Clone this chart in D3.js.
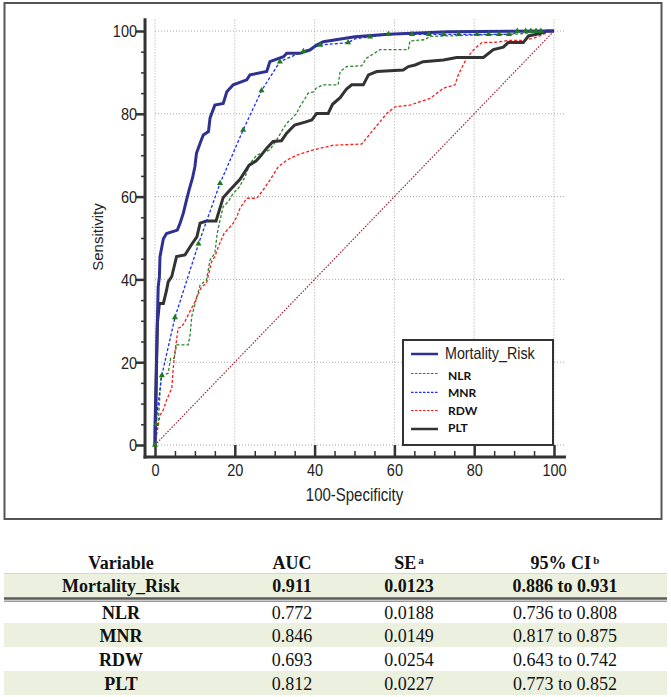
<!DOCTYPE html>
<html>
<head>
<meta charset="utf-8">
<script src="https://cdn.jsdelivr.net/npm/d3@7/dist/d3.min.js"></script>
<style>
html,body{margin:0;padding:0;background:#fff;}
svg{display:block;}
</style>
</head>
<body>
<svg id="chart" width="671" height="697"></svg>
<script>
// ---------------- DATA ----------------
const seriesNames = ["Mortality_Risk", "NLR", "MNR", "RDW", "PLT"];

const mortalityX = [0,0.25,0.4,0.6,0.8,1.1,1.25,2.1,2.9,5.6,6.3,7.1,7.8,8.6,9.4,10,10.4,11.3,12.1,13.4,13.8,15,17.1,18,19.6,23,23.8,28,28.8,32.2,33,36.3,38.8,40.5,42.2,50.1,58.5,73.5,100];
const mortalityY = [0,10,20.5,30,38.2,40.6,45.5,49.8,51.1,51.9,53.6,56,58.8,61.8,64.5,67.2,70.5,72.9,74.9,75.7,79,82.1,82.5,85.3,87,88.2,89.4,90.2,92.6,93.8,94.6,94.6,95.4,96.6,97.4,98.6,99.2,99.8,100];

const nlrX = [0,0.25,0.8,1.5,3.3,3.9,4.8,5.4,8.3,8.8,9.2,10.5,11.3,12.9,13.8,15,15.6,16.3,17.1,18.4,19.6,20.9,22.6,23.8,25.5,28.8,30.5,31.7,33,34.3,35.5,36.3,37.6,38.4,39.7,40.5,42.2,45.9,46.4,48,51.8,53,56.4,63.5,63.9,67.7,68.9,91.5,96.5,100];
const nlrY = [0,4.4,5.2,16.7,17.3,20.9,20.9,24.2,24.2,26.6,31,35.8,38.6,39.9,44.7,46.3,51.2,54.3,57.6,58.8,60.8,62,64.8,68,70,71.3,73.7,75.7,77.7,78.9,80.1,81.7,83.7,85,85.3,86.3,87,87,90.2,91.4,91.6,93.4,95.5,95.5,97.6,97.9,98.7,99.3,99.9,100];

const mnrX = [0,0.4,1.7,5,10.9,16.3,22.1,26.7,31.3,37.2,41.4,48.4,50.1,53.9,58.5,89.7,90.8,100];
const mnrY = [0,6.8,16.8,30.8,48.6,63.2,76.1,85.6,92.6,95.1,96.6,97.2,98.1,98.6,99.2,99.2,99.9,100];

const rdwX = [0,0.6,1.25,2.1,2.9,4.2,4.6,5,5.8,6.7,7.5,8.3,10,10.5,11.7,12.9,14.2,15,15.9,17.3,18.8,19.6,20.5,21.3,23,25.5,27.1,28.8,30.9,33,35.5,39.7,44.7,51.8,54.7,58.1,60.2,63.9,68.9,72.3,75.2,76,78.1,79.8,81.9,85.6,88.5,91.9,94.8,96.9,98.6,100];
const rdwY = [0,3.6,7.2,8.5,10.9,13.7,18.9,22.5,28.2,28.6,29.8,31.4,34.6,35.8,38.2,39.1,44.3,45.5,47.9,51.1,52.7,53.6,55.1,57.2,59.6,59.6,61.6,64,67.2,68.8,70,71.3,72.4,72.7,76.1,80.1,81.7,82.1,83.7,86.2,87,89.4,93.4,95.4,97.2,97.3,97.7,97.7,98.2,99,99.8,100];

const pltX = [0,0,0.4,0.6,1.1,2.1,2.9,3.3,4.2,5,5.4,7.5,9.2,10.5,11.3,12.9,15.3,17.1,18.8,21.3,23.6,25.3,26.3,28,29.6,31.7,33,35,37.6,39.3,40.5,43.4,44.5,46.4,48,49.3,52.2,53.5,55.6,62.2,63.5,65.2,67.2,72.3,75.6,82.3,84.8,87.3,88.5,92.3,93.6,96.5,98.1,100];
const pltY = [0,4.4,21.3,29.4,34.2,34.2,37.4,39.4,40.7,43.9,45.5,45.9,48.5,50.3,53.6,54.1,54.1,59.8,61.6,64.2,67.6,68.6,69.6,71.7,73.3,73.5,75.3,77.3,78,78.5,80.1,80.1,82.3,83.9,86,87,87,89.4,90.2,90.6,91.4,91.8,92.6,93,93.6,93.6,95.5,96.1,97.2,97.2,98.8,99.4,100,100];

// markers drawn on the MNR curve
const markerX = [0,0.3,1.7,5,10.9,16.3,22.1,26.7,31.3,37.2,41.4,48.4,53.9,58.5,64.4,68.6,72.3,76.1,80.7,83.6,86.2,88.7,90.8,92.9,94.2,95.5,96.7];
const markerY = [0,5,16.8,30.8,48.6,63.2,76.1,85.6,92.6,95.1,96.6,97.2,98.6,99.2,99.2,99.2,99.2,99.2,99.2,99.2,99.2,99.2,100,100,100,100,100];

const majorTicks = [0,20,40,60,80,100];
const minorTicks = [5,10,15,25,30,35,45,50,55,65,70,75,85,90,95];

const xTitle = "100-Specificity";
const yTitle = "Sensitivity";

// table
const tableHeaders = ["Variable", "AUC", "SE", "95% CI"];
const tableHeaderSup = ["", "", "a", "b"];
const tableVariables = ["Mortality_Risk", "NLR", "MNR", "RDW", "PLT"];
const tableAUC = ["0.911", "0.772", "0.846", "0.693", "0.812"];
const tableSE = ["0.0123", "0.0188", "0.0149", "0.0254", "0.0227"];
const tableCI = ["0.886 to 0.931", "0.736 to 0.808", "0.817 to 0.875", "0.643 to 0.742", "0.773 to 0.852"];

// ---------------- DRAW ----------------
const svg = d3.select("#chart");
const SY = 1.2; // vertical stretch of chart text

const x = d3.scaleLinear().domain([0, 100]).range([155, 554]);
const y = d3.scaleLinear().domain([0, 100]).range([445, 31]);

// outer frame
svg.append("rect").attr("x", 4.5).attr("y", 3).attr("width", 657).attr("height", 516)
  .attr("fill", "none").attr("stroke", "#555").attr("stroke-width", 2);

// grid
const grid = svg.append("g");
grid.selectAll("line.v").data(majorTicks).join("line")
  .attr("x1", d => x(d)).attr("x2", d => x(d))
  .attr("y1", y(102.8)).attr("y2", y(-2.9))
  .attr("stroke", "#a8a8a8").attr("stroke-width", 1).attr("stroke-dasharray", "1,2");
grid.selectAll("line.h").data(majorTicks).join("line")
  .attr("y1", d => y(d)).attr("y2", d => y(d))
  .attr("x1", x(0)).attr("x2", x(102.5))
  .attr("stroke", "#a8a8a8").attr("stroke-width", 1).attr("stroke-dasharray", "1,2");

// diagonal reference
svg.append("line")
  .attr("x1", x(0)).attr("y1", y(0)).attr("x2", x(100)).attr("y2", y(100))
  .attr("stroke", "#9b2335").attr("stroke-width", 1.2).attr("stroke-dasharray", "1.5,1.5");

// axes
const axisColor = "#333";
const yAxisX = x(-2.5), xAxisY = y(-2.9);
const yMajor = d3.axisLeft(y).tickValues(majorTicks).tickSize(9).tickFormat(d3.format("d"));
const yMinor = d3.axisLeft(y).tickValues(minorTicks).tickSize(4).tickFormat("");
const xMajor = d3.axisBottom(x).tickValues(majorTicks).tickSize(-12).tickFormat(d3.format("d"));
const xMinor = d3.axisBottom(x).tickValues(minorTicks).tickSize(-6).tickFormat("");

function styleAxis(g, w) {
  g.select(".domain").remove();
  g.selectAll(".tick line").attr("stroke", axisColor).attr("stroke-width", w);
}
const gyMin = svg.append("g").attr("transform", `translate(${yAxisX},0)`).call(yMinor);
styleAxis(gyMin, 1.5);
const gyMaj = svg.append("g").attr("transform", `translate(${yAxisX},0)`).call(yMajor);
styleAxis(gyMaj, 2.5);
gyMaj.selectAll(".tick text")
  .attr("x", -8).attr("dy", null).attr("y", 0)
  .attr("dominant-baseline", "central")
  .attr("transform", `scale(1,${SY})`)
  .attr("font-family", "'Liberation Sans', Arial, sans-serif").attr("font-size", 14.5)
  .attr("fill", "#222").attr("text-anchor", "end");

const gxMin = svg.append("g").attr("transform", `translate(0,${xAxisY})`).call(xMinor);
styleAxis(gxMin, 1.5);
const gxMaj = svg.append("g").attr("transform", `translate(0,${xAxisY})`).call(xMajor);
styleAxis(gxMaj, 2.5);
gxMaj.selectAll(".tick text")
  .attr("y", 0).attr("dy", null)
  .attr("dominant-baseline", "central")
  .attr("transform", `translate(0,13) scale(1,${SY})`)
  .attr("font-family", "'Liberation Sans', Arial, sans-serif").attr("font-size", 14.5)
  .attr("fill", "#222").attr("text-anchor", "middle");

svg.append("line").attr("x1", yAxisX).attr("x2", yAxisX).attr("y1", y(103.1)).attr("y2", xAxisY + 1.5)
  .attr("stroke", axisColor).attr("stroke-width", 3);
svg.append("line").attr("x1", yAxisX - 1.5).attr("x2", x(103)).attr("y1", xAxisY).attr("y2", xAxisY)
  .attr("stroke", axisColor).attr("stroke-width", 3);

// axis titles
svg.append("g").attr("transform", `translate(${(x(0)+x(100))/2},495) scale(1,${SY})`)
  .append("text").text(xTitle)
  .attr("text-anchor", "middle").attr("dominant-baseline", "central")
  .attr("font-family", "'Liberation Sans', Arial, sans-serif").attr("font-size", 15).attr("fill", "#222");
svg.append("g").attr("transform", `translate(97,237) rotate(-90)`)
  .append("text").text(yTitle)
  .attr("text-anchor", "middle").attr("dominant-baseline", "central")
  .attr("font-family", "'Liberation Sans', Arial, sans-serif").attr("font-size", 15).attr("fill", "#222");

// curves
const line = d3.line().x(d => x(d[0])).y(d => y(d[1])).curve(d3.curveLinear);
const zip = (a, b) => a.map((v, i) => [v, b[i]]);

const styles = {
  "Mortality_Risk": {color: "#2e3192", width: 3, dash: null},
  "NLR": {color: "#2a862a", width: 1.3, dash: "3,2"},
  "MNR": {color: "#1a2cff", width: 1.3, dash: "3,2"},
  "RDW": {color: "#ff1a1a", width: 1.3, dash: "3,2"},
  "PLT": {color: "#333333", width: 3, dash: null}
};
const seriesData = {
  "Mortality_Risk": zip(mortalityX, mortalityY),
  "NLR": zip(nlrX, nlrY),
  "MNR": zip(mnrX, mnrY),
  "RDW": zip(rdwX, rdwY),
  "PLT": zip(pltX, pltY)
};
const drawOrder = ["RDW", "NLR", "PLT", "MNR", "Mortality_Risk"];
svg.append("g").selectAll("path").data(drawOrder).join("path")
  .attr("d", k => line(seriesData[k]))
  .attr("fill", "none")
  .attr("stroke", k => styles[k].color)
  .attr("stroke-width", k => styles[k].width)
  .attr("stroke-dasharray", k => styles[k].dash)
  .attr("stroke-linejoin", "miter");

// markers
const tri = d3.symbol().type(d3.symbolTriangle).size(16);
svg.append("g").selectAll("path").data(zip(markerX, markerY)).join("path")
  .attr("d", tri)
  .attr("transform", d => `translate(${x(d[0])},${y(d[1])})`)
  .attr("fill", "#1f7a1f");

// legend
const lg = svg.append("g");
lg.append("rect").attr("x", 403).attr("y", 340).attr("width", 150).attr("height", 105)
  .attr("fill", "#fff").attr("stroke", "#333").attr("stroke-width", 2);
const legendY = [354, 373.5, 392.3, 410.5, 429];
const legendTextY = [353.5, 375.5, 392.5, 410, 427.5];
seriesNames.forEach((k, i) => {
  lg.append("line").attr("x1", 411).attr("x2", 438).attr("y1", legendY[i]).attr("y2", legendY[i])
    .attr("stroke", styles[k].color).attr("stroke-width", styles[k].width === 3 ? 2.5 : 1.2)
    .attr("stroke-dasharray", styles[k].dash ? "2.5,1.5" : null);
  if (i === 0) {
    lg.append("g").attr("transform", `translate(445,${legendTextY[i]}) scale(1,1.18)`)
      .append("text").text(k).attr("dominant-baseline", "central")
      .attr("font-family", "'Liberation Sans', Arial, sans-serif").attr("font-size", 14.3).attr("fill", "#222");
  } else {
    lg.append("text").attr("x", 448).attr("y", legendTextY[i]).text(k)
      .attr("dominant-baseline", "central")
      .attr("font-family", "Lato, 'Open Sans', sans-serif").attr("font-weight", "bold")
      .attr("font-size", 12).attr("fill", "#111");
  }
});

// ---------------- TABLE ----------------
const tb = svg.append("g").attr("font-family", "'Liberation Serif', 'Times New Roman', serif").attr("font-size", 18).attr("fill", "#111");
const colX = [121, 292, 409, 565];
const rowTop = [573, 602, 623, 647, 671];
const rowH = [24, 21, 24, 24, 24];
const shaded = [true, false, true, false, true];
const tableLeft = 4, tableRight = 667;

tb.selectAll("rect.band").data(tableVariables).join("rect")
  .attr("x", tableLeft).attr("width", tableRight - tableLeft)
  .attr("y", (d, i) => rowTop[i]).attr("height", (d, i) => rowH[i])
  .attr("fill", (d, i) => shaded[i] ? "#ebf1de" : "#fff");
tb.append("line").attr("x1", tableLeft).attr("x2", tableRight).attr("y1", 573.5).attr("y2", 573.5)
  .attr("stroke", "#d3dfb8").attr("stroke-width", 1.2);
tb.append("line").attr("x1", tableLeft).attr("x2", tableRight).attr("y1", 598.5).attr("y2", 598.5)
  .attr("stroke", "#5a5a5a").attr("stroke-width", 2.5);
tb.append("line").attr("x1", tableLeft).attr("x2", tableRight).attr("y1", 601.3).attr("y2", 601.3)
  .attr("stroke", "#9a9a9a").attr("stroke-width", 1.5);

// header
tableHeaders.forEach((h, j) => {
  const t = tb.append("text").attr("x", colX[j]).attr("y", 563).attr("dy", "0.35em")
    .attr("text-anchor", "middle").attr("font-weight", "bold");
  t.append("tspan").text(h);
  if (tableHeaderSup[j]) {
    t.append("tspan").text("\u2009" + tableHeaderSup[j]).attr("font-size", 11).attr("dy", "-0.5em");
  }
});
const cols = [tableVariables, tableAUC, tableSE, tableCI];
tableVariables.forEach((v, i) => {
  cols.forEach((c, j) => {
    tb.append("text").attr("x", colX[j]).attr("y", rowTop[i] + rowH[i] / 2 + (i === 1 ? 0.5 : 1))
      .attr("dy", "0.35em").attr("text-anchor", "middle")
      .attr("font-weight", (i === 0 || j === 0) ? "bold" : "normal")
      .text(c[i]);
  });
});
</script>
</body>
</html>
